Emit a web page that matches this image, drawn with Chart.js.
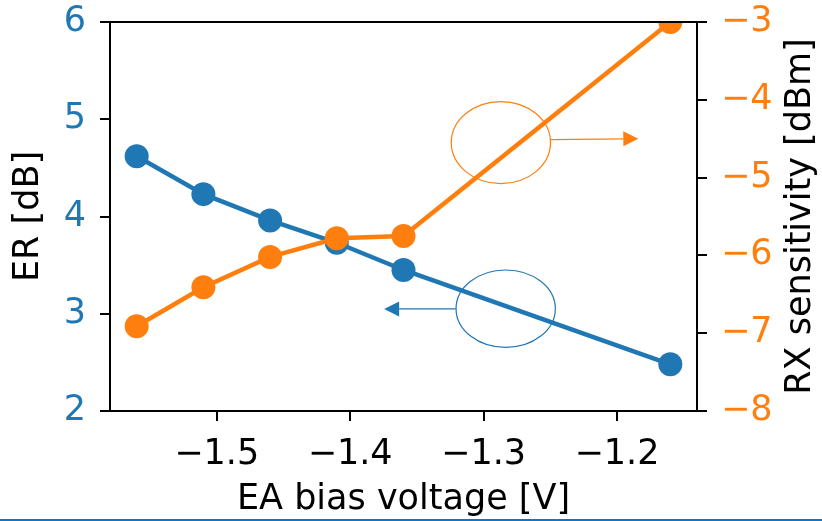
<!DOCTYPE html>
<html>
<head>
<meta charset="utf-8">
<script src="https://cdn.jsdelivr.net/npm/chart.js@4"></script>
<style>
  html, body { margin: 0; padding: 0; background: #fff; }
  #wrap { position: relative; width: 822px; height: 521px; }
  #bar { position: absolute; left: 0; top: 519px; width: 822px; height: 2px; background: #0a78d0; }
</style>
</head>
<body>
<div id="wrap">
  <canvas id="chart" width="822" height="521"></canvas>
  <div id="bar"></div>
</div>
<script>
// measured data
const voltage = [-1.56, -1.51, -1.46, -1.41, -1.36, -1.16];
const erValues = [4.62, 4.23, 3.96, 3.73, 3.45, 2.48];
const rxValues = [-6.91, -6.41, -6.02, -5.78, -5.75, -3.0];

// tick labels
const xTicks = [-1.5, -1.4, -1.3, -1.2];
const erTicks = [2, 3, 4, 5, 6];
const rxTicks = [-8, -7, -6, -5, -4, -3];

// annotation ellipses + arrows (x in V, y in ER dB units)
const rxNote = { cx: -1.287, cy: 4.76, rx: 0.0372, ry: 0.422, from: [-1.2496, 4.79], to: [-1.184, 4.80] };
const erNote = { cx: -1.2834, cy: 3.052, rx: 0.0372, ry: 0.398, from: [-1.3208, 3.05], to: [-1.3745, 3.05] };

const blue = '#1f77b4';
const orange = '#ff7f0e';
const FONT = 'DejaVu Sans';

Chart.defaults.font.family = FONT;
Chart.defaults.color = '#000';

const fmt = v => (v < 0 ? '\u2212' : '') + Math.abs(v).toString();

const pts = ys => voltage.map((x, i) => ({ x, y: ys[i] }));

function drawArrow(ctx, x0, y0, x1, y1, color) {
    const ang = Math.atan2(y1 - y0, x1 - x0);
    const len = 15, half = 7.5;
    const bx = x1 - len * Math.cos(ang), by = y1 - len * Math.sin(ang);
    ctx.strokeStyle = color;
    ctx.lineWidth = 1.2;
    ctx.beginPath();
    ctx.moveTo(x0, y0);
    ctx.lineTo(bx, by);
    ctx.stroke();
    ctx.fillStyle = color;
    ctx.beginPath();
    ctx.moveTo(x1, y1);
    ctx.lineTo(bx - half * Math.sin(ang), by + half * Math.cos(ang));
    ctx.lineTo(bx + half * Math.sin(ang), by - half * Math.cos(ang));
    ctx.closePath();
    ctx.fill();
}

const extras = {
    id: 'extras',
    afterDatasetsDraw(chart) {
        const { ctx, chartArea: a, scales } = chart;
        const sx = scales.x, sy = scales.y;
        ctx.save();

        // ellipses with arrows
        [[rxNote, orange], [erNote, blue]].forEach(([n, c]) => {
            const cx = sx.getPixelForValue(n.cx), cy = sy.getPixelForValue(n.cy);
            const rx = Math.abs(sx.getPixelForValue(n.cx + n.rx) - cx);
            const ry = Math.abs(sy.getPixelForValue(n.cy + n.ry) - cy);
            ctx.strokeStyle = c;
            ctx.lineWidth = 1.2;
            ctx.beginPath();
            ctx.ellipse(cx, cy, rx, ry, 0, 0, Math.PI * 2);
            ctx.stroke();
            drawArrow(ctx,
                sx.getPixelForValue(n.from[0]), sy.getPixelForValue(n.from[1]),
                sx.getPixelForValue(n.to[0]), sy.getPixelForValue(n.to[1]), c);
        });

        // frame on top of the data
        ctx.strokeStyle = '#000';
        ctx.lineWidth = 2;
        ctx.strokeRect(a.left, a.top, a.right - a.left, a.bottom - a.top);

        // right axis title, reading bottom to top
        const r = scales.y1;
        ctx.fillStyle = '#000';
        ctx.font = '35px "' + FONT + '"';
        ctx.textAlign = 'center';
        ctx.textBaseline = 'middle';
        ctx.translate(r.right - 21, (a.top + a.bottom) / 2);
        ctx.rotate(-Math.PI / 2);
        ctx.fillText('RX sensitivity [dBm]', 0, 0);
        ctx.restore();
    }
};

const tickGrid = { display: true, drawOnChartArea: false, drawTicks: true, tickLength: 10, color: '#000', lineWidth: 2 };
const axisBorder = { display: true, color: '#000', width: 2 };

// fixed axis sizes so the plot box lands where the reference has it
const fixV = w => s => { s.width = w; s.paddingTop = 0; s.paddingBottom = 0; };

new Chart(document.getElementById('chart'), {
    type: 'line',
    data: {
        datasets: [
            {
                label: 'RX sensitivity',
                data: pts(rxValues),
                yAxisID: 'y1',
                borderColor: orange,
                backgroundColor: orange,
                borderWidth: 4.5,
                pointRadius: 12,
                pointBorderWidth: 0,
                pointBackgroundColor: orange,
                tension: 0,
                clip: 0,
                order: 0
            },
            {
                label: 'ER',
                data: pts(erValues),
                yAxisID: 'y',
                borderColor: blue,
                backgroundColor: blue,
                borderWidth: 4.5,
                pointRadius: 12,
                pointBorderWidth: 0,
                pointBackgroundColor: blue,
                tension: 0,
                clip: 0,
                order: 1
            }
        ]
    },
    options: {
        responsive: false,
        animation: false,
        devicePixelRatio: 1,
        layout: { padding: { top: 22, left: 0, right: 0, bottom: 0 } },
        plugins: { legend: { display: false }, tooltip: { enabled: false } },
        scales: {
            x: {
                type: 'linear',
                position: 'bottom',
                min: -1.58,
                max: -1.14,
                afterBuildTicks: s => { s.ticks = xTicks.map(v => ({ value: v })); },
                afterFit: s => { s.height = 110; s.paddingLeft = 0; s.paddingRight = 0; },
                ticks: { callback: v => fmt(Number(v).toFixed(1) * 1), font: { size: 35 }, color: '#000', padding: 13, maxRotation: 0 },
                grid: tickGrid,
                border: axisBorder,
                title: { display: true, text: 'EA bias voltage [V]', font: { size: 35 }, color: '#000', padding: { top: 0, bottom: 0 } }
            },
            y: {
                type: 'linear',
                position: 'left',
                min: 2,
                max: 6,
                afterBuildTicks: s => { s.ticks = erTicks.map(v => ({ value: v })); },
                afterFit: fixV(110),
                ticks: { callback: v => fmt(v), font: { size: 35 }, color: blue, padding: 14 },
                grid: tickGrid,
                border: axisBorder,
                title: { display: true, text: 'ER [dB]', font: { size: 35 }, color: '#000', padding: { top: 8, bottom: 0 } }
            },
            y1: {
                type: 'linear',
                position: 'right',
                min: -8,
                max: -3,
                afterBuildTicks: s => { s.ticks = rxTicks.map(v => ({ value: v })); },
                afterFit: fixV(125),
                ticks: { callback: v => fmt(v), font: { size: 35 }, color: orange, padding: 14 },
                grid: tickGrid,
                border: axisBorder
            }
        }
    },
    plugins: [extras]
});
</script>
</body>
</html>
